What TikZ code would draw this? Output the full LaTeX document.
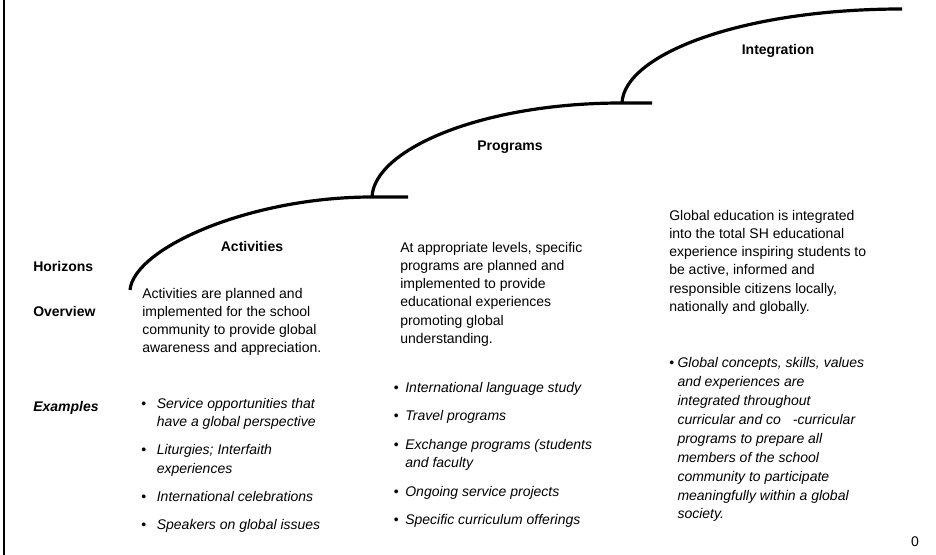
\documentclass[tikz,border=0pt]{standalone}
\usepackage{fontspec}
\setmainfont{Liberation Sans}
\begin{document}
\begin{tikzpicture}[x=0.75pt,y=-0.75pt,
	stair/.style={line width=2.4pt},
	stage/.style={font=\fontsize{10.5}{12}\selectfont\bfseries,anchor=base,inner sep=0pt},
	rowlabel/.style={font=\fontsize{10.5}{12}\selectfont\bfseries,anchor=base west,inner sep=0pt},
	overview/.style={font=\fontsize{10.5}{13.7}\selectfont,anchor=north west,inner sep=0pt},
	examples/.style={font=\fontsize{10.5}{14}\selectfont,anchor=north west,inner sep=0pt}]
	\useasboundingbox (0,0) rectangle (936,555);
	\draw[line width=1.4pt] (4,0) -- (4,555);
	\draw[stair] (130,290) .. controls (134,248) and (250,197) .. (372,197) -- (408,197);
	\draw[stair] (372,197) .. controls (374,150) and (480,103) .. (622,103) -- (652,103);
	\draw[stair] (622,103) .. controls (624,55) and (740,9) .. (902,9);
	\node[stage] (activities) at (252,252) {Activities};
	\node[stage] (programs) at (510,151) {Programs};
	\node[stage] (integration) at (778,55) {Integration};
	\node[rowlabel] (horizons) at (33,272) {Horizons};
	\node[rowlabel] (overview) at (33,317) {Overview};
	\node[rowlabel] (examples) at (33,412) {\itshape Examples};
	\node[overview] (actover) at (142,285) {\begin{tabular}{@{}l@{}}
		Activities are planned and\\
		implemented for the school\\
		community to provide global\\
		awareness and appreciation.
	\end{tabular}};
	\node[overview] (progover) at (400,239) {\begin{tabular}{@{}l@{}}
		At appropriate levels, specific\\
		programs are planned and\\
		implemented to provide\\
		educational experiences\\
		promoting global\\
		understanding.
	\end{tabular}};
	\node[overview] (integover) at (669,207) {\begin{tabular}{@{}l@{}}
		Global education is integrated\\
		into the total SH educational\\
		experience inspiring students to\\
		be active, informed and\\
		responsible citizens locally,\\
		nationally and globally.
	\end{tabular}};
	\node[examples] (actex) at (141,395) {\begin{tabular}{@{}l@{\hspace{8pt}}l@{}}
		\textbullet & \itshape Service opportunities that\\
		& \itshape have a global perspective\\[7pt]
		\textbullet & \itshape Liturgies; Interfaith\\
		& \itshape experiences\\[7pt]
		\textbullet & \itshape International celebrations\\[7pt]
		\textbullet & \itshape Speakers on global issues
	\end{tabular}};
	\node[examples] (progex) at (393.5,379) {\begin{tabular}{@{}l@{\hspace{5pt}}l@{}}
		\textbullet & \itshape International language study\\[7.3pt]
		\textbullet & \itshape Travel programs\\[7.3pt]
		\textbullet & \itshape Exchange programs (students\\
		& \itshape and faculty\\[7.3pt]
		\textbullet & \itshape Ongoing service projects\\[7.3pt]
		\textbullet & \itshape Specific curriculum offerings
	\end{tabular}};
	\node[examples,font=\fontsize{10.5}{14.2}\selectfont] (integex) at (669,354) {\begin{tabular}{@{}l@{\hspace{2.5pt}}l@{}}
		\textbullet & \itshape Global concepts, skills, values\\
		& \itshape and experiences are\\
		& \itshape integrated throughout\\
		& \itshape curricular and co\hspace{9pt}-curricular\\
		& \itshape programs to prepare all\\
		& \itshape members of the school\\
		& \itshape community to participate\\
		& \itshape meaningfully within a global\\
		& \itshape society.
	\end{tabular}};
	\node[font=\fontsize{10.5}{12}\selectfont,anchor=base,inner sep=0pt] (page) at (915,547) {0};
\end{tikzpicture}
\end{document}
